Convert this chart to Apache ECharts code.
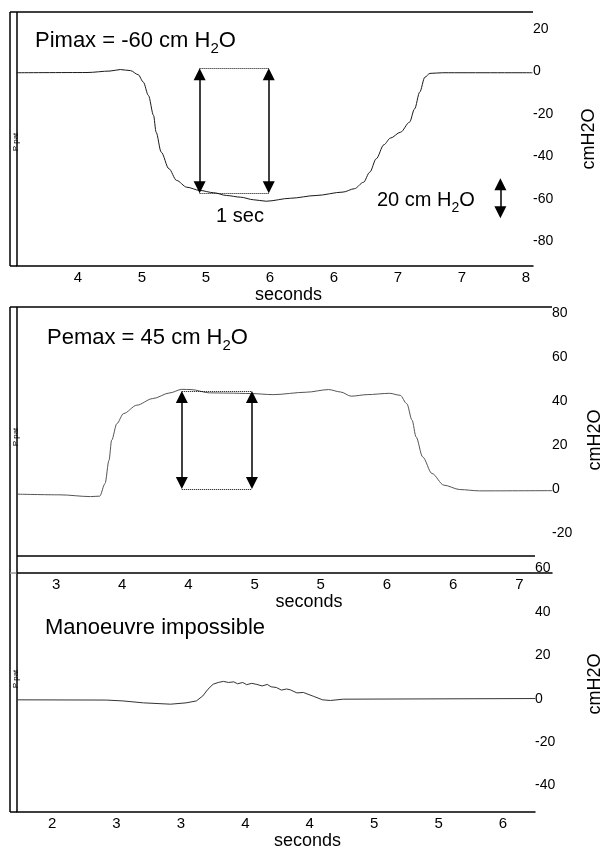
<!DOCTYPE html>
<html>
<head>
<meta charset="utf-8">
<script src="https://cdn.jsdelivr.net/npm/echarts@6/dist/echarts.min.js"></script>
<style>
  html, body { margin: 0; padding: 0; background: #fff; }
  #chart { width: 602px; height: 851px; }
</style>
</head>
<body>
<div id="chart"></div>
<script>
  // Pimax trace (seconds, cmH2O)
  const p1Time = [3.52, 4.07, 4.25, 4.33, 4.41, 4.47, 4.51, 4.55, 4.59, 4.61, 4.65, 4.71, 4.77, 4.85, 4.95, 5.06, 5.16, 5.27, 5.37, 5.47, 5.66, 5.86, 6.07, 6.16, 6.23, 6.28, 6.33, 6.39, 6.44, 6.52, 6.59, 6.63, 6.67, 6.71, 6.75, 6.85, 7.55]
  const p1Pres = [-0.6, -0.5, 0.2, 0.9, 0.4, -1.5, -5, -11.3, -20.7, -28.6, -38, -45.8, -51.3, -54.5, -56, -57.1, -58.4, -59.2, -60.4, -61.1, -59.7, -58.4, -56.8, -55.2, -52.2, -47.4, -41.1, -34.5, -31.4, -28.6, -23.9, -17.6, -9.7, -2.7, -0.9, -0.6, -0.6]
  // Pemax trace
  const p2Time = [2.71, 3.03, 3.26, 3.33, 3.37, 3.40, 3.42, 3.46, 3.51, 3.61, 3.73, 3.86, 3.95, 4.02, 4.16, 4.30, 4.47, 4.64, 4.89, 5.06, 5.15, 5.23, 5.35, 5.52, 5.60, 5.65, 5.69, 5.72, 5.77, 5.84, 5.93, 6.05, 6.20, 6.75]
  const p2Pres = [-2.1, -2.4, -3.2, -3.0, 2.7, 13.3, 22.4, 30, 34.5, 38.3, 41.3, 43.9, 45.5, 45.4, 43.9, 43.8, 43.6, 43.1, 44.2, 45.4, 44.3, 42.4, 43.1, 43.7, 42.8, 39, 31.5, 23.9, 14.8, 7.3, 2, 0, -0.6, -0.5]
  // failed manoeuvre trace
  const p3Time = [1.73, 2.42, 2.55, 2.71, 2.92, 3.04, 3.12, 3.17, 3.21, 3.25, 3.29, 3.33, 3.37, 3.41, 3.44, 3.48, 3.51, 3.55, 3.59, 3.63, 3.67, 3.70, 3.74, 3.78, 3.82, 3.85, 3.90, 3.95, 4.03, 4.10, 4.16, 4.26, 5.75]
  const p3Pres = [-0.5, -0.6, -1.0, -1.9, -2.5, -1.9, -1.0, 1.3, 4.4, 6.7, 7.5, 8.0, 7.5, 7.8, 6.9, 7.5, 6.5, 7.1, 6.6, 5.9, 6.6, 5.5, 5.2, 4.0, 4.5, 4.1, 2.7, 2.9, 1.1, -0.5, -0.8, -0.2, 0.1]

  const p1XTicks = [4, 4.5, 5, 5.5, 6, 6.5, 7, 7.5]
  const p1XLabels = ['4', '5', '5', '6', '6', '7', '7', '8']
  const p2XTicks = [3, 3.5, 4, 4.5, 5, 5.5, 6, 6.5]
  const p2XLabels = ['3', '4', '4', '5', '5', '6', '6', '7']
  const p3XTicks = [2, 2.5, 3, 3.5, 4, 4.5, 5, 5.5]
  const p3XLabels = ['2', '3', '3', '4', '4', '5', '5', '6']
  const p1YTicks = [20, 0, -20, -40, -60, -80]
  const p2YTicks = [80, 60, 40, 20, 0, -20]
  const p3YTicks = [60, 40, 20, 0, -20, -40]

  // annotation arrows: x positions and [top, bottom] pressures
  const p1ArrowX = [4.95, 5.49]
  const p1ArrowY = [1.5, -57.3]
  const p2ArrowX = [3.95, 4.48]
  const p2ArrowY = [44.8, 0.3]
  const scaleArrowX = 7.3
  const scaleArrowY = [-50.3, -69.1]

  const FONT = "'Liberation Sans', Arial, sans-serif"
  const panels = [
    { grid: { left: 17, top: 12, width: 516, height: 254 }, x: [3.523, 7.555], y: [-91.6, 28.0],
      xt: p1XTicks, xl: p1XLabels, yt: p1YTicks, nameGap: 47, secGap: 17, secShift: 27 },
    { grid: { left: 17, top: 307, width: 535, height: 266 }, x: [2.705, 6.747], y: [-37.9, 82.9],
      xt: p2XTicks, xl: p2XLabels, yt: p2YTicks, nameGap: 34, secGap: 15, secShift: 49 },
    { grid: { left: 17, top: 556, width: 518, height: 256 }, x: [1.728, 5.748], y: [-52.2, 65.8],
      xt: p3XTicks, xl: p3XLabels, yt: p3YTicks, nameGap: 51, secGap: 20, secShift: 63 }
  ]

  const zip = (a, b) => a.map((v, i) => [v, b[i]])
  // half of an arrow head (6px) in data units of a panel
  const half = (p) => 6 * (p.y[1] - p.y[0]) / p.grid.height

  const arrowLines = (p, xs, ys) => xs.map((x) => [{ coord: [x, ys[0] - half(p)] }, { coord: [x, ys[1] + half(p)] }])
  const dottedLines = (xs, ys) => ys.map((y) => [{ coord: [xs[0], y] }, { coord: [xs[1], y] }])

  const arrowMark = (data) => ({
    silent: true,
    symbol: ['triangle', 'triangle'],
    symbolSize: 12,
    label: { show: false },
    lineStyle: { color: '#000', width: 1.5, type: 'solid' },
    itemStyle: { color: '#000' },
    emphasis: { disabled: true },
    animation: false,
    data: data
  })
  const dotMark = (data) => ({
    silent: true,
    symbol: ['none', 'none'],
    label: { show: false },
    lineStyle: { color: '#000', width: 1, type: 'dotted' },
    emphasis: { disabled: true },
    animation: false,
    data: data
  })

  const chart = echarts.init(document.getElementById('chart'))

  const xAxis = panels.map((p, i) => ({
    gridIndex: i,
    type: 'value',
    min: p.x[0],
    max: p.x[1],
    axisLine: { show: true, onZero: false, lineStyle: { color: '#000', width: 1.5 } },
    axisTick: { show: false },
    splitLine: { show: false },
    axisLabel: {
      customValues: p.xt,
      margin: 4,
      fontSize: 15,
      color: '#000',
      fontFamily: FONT,
      formatter: (v) => p.xl[p.xt.findIndex((t) => Math.abs(t - v) < 1e-6)]
    },
    name: 'seconds',
    nameLocation: 'middle',
    nameGap: p.secGap,
    nameTextStyle: { fontSize: 18, color: '#000', fontFamily: FONT, padding: [0, 0, 0, p.secShift] }
  }))

  const yAxis = panels.map((p, i) => ({
    gridIndex: i,
    type: 'value',
    position: 'right',
    min: p.y[0],
    max: p.y[1],
    axisLine: { show: false },
    axisTick: { show: false },
    splitLine: { show: false },
    axisLabel: { customValues: p.yt, margin: 0, fontSize: 14, color: '#000', fontFamily: FONT },
    name: 'cmH2O',
    nameLocation: 'middle',
    nameRotate: 90,
    nameGap: p.nameGap,
    nameTextStyle: { fontSize: 18, color: '#000', fontFamily: FONT }
  }))

  const traceStyle = (color) => ({ color: color, width: 1 })
  const series = [
    { type: 'line', xAxisIndex: 0, yAxisIndex: 0, data: zip(p1Time, p1Pres), showSymbol: false, smooth: 0.3, smoothMonotone: 'x',
      lineStyle: traceStyle('#1a1a1a'), silent: true,
      markLine: arrowMark(arrowLines(panels[0], p1ArrowX, p1ArrowY).concat(arrowLines(panels[0], [scaleArrowX], scaleArrowY))) },
    { type: 'line', xAxisIndex: 0, yAxisIndex: 0, data: [], markLine: dotMark(dottedLines(p1ArrowX, p1ArrowY)) },
    { type: 'line', xAxisIndex: 1, yAxisIndex: 1, data: zip(p2Time, p2Pres), showSymbol: false, smooth: 0.3, smoothMonotone: 'x',
      lineStyle: traceStyle('#555'), silent: true,
      markLine: arrowMark(arrowLines(panels[1], p2ArrowX, p2ArrowY)) },
    { type: 'line', xAxisIndex: 1, yAxisIndex: 1, data: [], markLine: dotMark(dottedLines(p2ArrowX, p2ArrowY)) },
    { type: 'line', xAxisIndex: 2, yAxisIndex: 2, data: zip(p3Time, p3Pres), showSymbol: false, smooth: false,
      lineStyle: traceStyle('#333'), silent: true }
  ]

  const rich = {
    a: { fontSize: 22, lineHeight: 30, color: '#000', fontFamily: FONT, fontWeight: 'normal' },
    s: { fontSize: 15, lineHeight: 15, verticalAlign: 'bottom', color: '#000', fontFamily: FONT, fontWeight: 'normal' },
    b: { fontSize: 20, lineHeight: 30, color: '#000', fontFamily: FONT, fontWeight: 'normal' },
    t: { fontSize: 14, lineHeight: 15, verticalAlign: 'bottom', color: '#000', fontFamily: FONT, fontWeight: 'normal' }
  }
  const titleStyle = { fontWeight: 'normal', color: '#000', fontFamily: FONT, rich: rich }
  const title = [
    { text: '{a|Pimax = -60 cm H}{s|2}{a|O}', left: 35, top: 26, padding: 0, textStyle: titleStyle },
    { text: '{a|Pemax = 45 cm H}{s|2}{a|O}', left: 47, top: 323, padding: 0, textStyle: titleStyle },
    { text: '{a|Manoeuvre impossible}', left: 45, top: 613, padding: 0, textStyle: titleStyle },
    { text: '{b|1 sec}', left: 240, textAlign: 'center', top: 201, padding: 0, textStyle: titleStyle },
    { text: '{b|20 cm H}{t|2}{b|O}', left: 377, top: 185, padding: 0, textStyle: titleStyle }
  ]

  // frame lines of the recorder strips
  const seg = (x1, y1, x2, y2, color) => ({
    type: 'line', silent: true,
    shape: { x1: x1, y1: y1, x2: x2, y2: y2 },
    style: { stroke: color || '#000', lineWidth: 1.5 }
  })
  const g = panels.map((p) => p.grid)
  const graphic = [
    seg(10, g[0].top, g[0].left + g[0].width, g[0].top),
    seg(10, g[0].top, 10, g[0].top + g[0].height),
    seg(g[0].left, g[0].top, g[0].left, g[0].top + g[0].height),
    seg(10, g[0].top + g[0].height, g[0].left, g[0].top + g[0].height),
    seg(10, g[1].top, g[1].left + g[1].width, g[1].top),
    seg(g[2].left, g[2].top, g[2].left + g[2].width, g[2].top),
    seg(10, g[1].top, 10, g[2].top + g[2].height),
    seg(g[1].left, g[1].top, g[1].left, g[2].top + g[2].height),
    seg(10, g[1].top + g[1].height, g[1].left, g[1].top + g[1].height, '#999'),
    seg(10, g[2].top + g[2].height, g[2].left, g[2].top + g[2].height)
  ]
  const pLabelY = [142, 437, 679]
  pLabelY.forEach((y) => {
    graphic.push({
      type: 'text', silent: true, x: 16, y: y, rotation: Math.PI / 2,
      style: { text: 'P pat', fontSize: 8, fill: '#000', fontFamily: FONT, align: 'center', verticalAlign: 'middle' }
    })
  })

  chart.setOption({
    animation: false,
    backgroundColor: '#fff',
    title: title,
    grid: panels.map((p) => Object.assign({ outerBoundsMode: 'none', containLabel: false }, p.grid)),
    xAxis: xAxis,
    yAxis: yAxis,
    series: series,
    graphic: graphic
  })
</script>
</body>
</html>
